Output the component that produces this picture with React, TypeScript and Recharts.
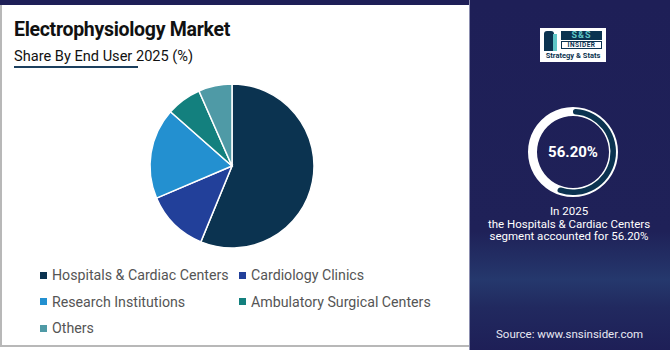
import { PieChart, Pie, Cell } from 'recharts'

const segments = ['Hospitals & Cardiac Centers', 'Cardiology Clinics', 'Research Institutions', 'Ambulatory Surgical Centers', 'Others']
const shares = [56.2, 12.4, 17.9, 6.9, 6.6]
const colors = ['#0b3350', '#22409a', '#2390d0', '#13807e', '#4f9aa6']

const highlightValue = 56.2
const highlightLabel = '56.20%'

const pieData = segments.map((name, i) => ({ name, value: shares[i] }))
const ringTrack = [{ name: 'track', value: 100 }]
const ringData = [
  { name: 'share', value: highlightValue },
  { name: 'rest', value: 100 - highlightValue },
]

const font = 'Roboto, "Noto Sans", Arial, sans-serif'

function Logo() {
  return (
    <div
      style={{
        position: 'absolute', left: 540, top: 28, width: 66, height: 34,
        background: '#fff', fontFamily: font, color: '#0b3350',
      }}
    >
      <div style={{ position: 'absolute', left: 4, top: 3, width: 10, height: 20, background: '#0b3350', borderRadius: '3px 3px 0 0' }} />
      <div style={{ position: 'absolute', left: 13, top: 6, width: 4, height: 17, background: '#5fc6c6' }} />
      <div style={{ position: 'absolute', left: 21, top: 3, width: 41, height: 9, background: '#0b3350', color: '#5fc6c6', fontSize: 9, fontWeight: 700, lineHeight: '9px', textAlign: 'center', letterSpacing: 1 }}>S&amp;S</div>
      <div style={{ position: 'absolute', left: 21, top: 13, width: 41, height: 8, border: '1px solid #0b3350', boxSizing: 'border-box', fontSize: 6.5, fontWeight: 700, lineHeight: '7px', textAlign: 'center', letterSpacing: 0.5 }}>INSIDER</div>
      <div style={{ position: 'absolute', left: 0, top: 23, width: 66, fontSize: 7.5, fontWeight: 700, lineHeight: '9px', textAlign: 'center' }}>Strategy &amp; Stats</div>
    </div>
  )
}

export default function App() {
  return (
    <div style={{ position: 'absolute', left: 0, top: 0, width: 670, height: 350, overflow: 'hidden', background: '#fff', fontFamily: font }}>
      {/* left card */}
      <div style={{ position: 'absolute', left: 0, top: 0, width: 670, height: 5, background: '#1e1f57' }} />
      <div style={{ position: 'absolute', left: 0, top: 5, width: 469, height: 342, borderLeft: '2px solid #b8b8b8', borderBottom: '2px solid #b8b8b8', boxSizing: 'border-box' }} />

      <div style={{ position: 'absolute', left: 14, top: 18, fontSize: 19.5, fontWeight: 700, color: '#111', letterSpacing: -0.3 }}>
        Electrophysiology Market
      </div>
      <div style={{ position: 'absolute', left: 14, top: 47, fontSize: 14.6, color: '#111' }}>
        Share By End User 2025 (%)
      </div>
      <div style={{ position: 'absolute', left: 14, top: 66, width: 124, height: 2, background: '#1c3f5e' }} />

      <div style={{ position: 'absolute', left: 0, top: 0 }}>
        <PieChart width={469} height={260}>
          <Pie
            data={pieData}
            dataKey="value"
            cx={227}
            cy={161}
            outerRadius={82}
            startAngle={90}
            endAngle={-270}
            stroke="#fff"
            strokeWidth={1.5}
            isAnimationActive={false}
          >
            {pieData.map((d, i) => (
              <Cell key={d.name} fill={colors[i]} />
            ))}
          </Pie>
        </PieChart>
      </div>

      {/* legend */}
      {segments.map((name, i) => (
        <div
          key={name}
          style={{
            position: 'absolute',
            left: i % 2 === 0 ? 40 : 239,
            top: 267 + Math.floor(i / 2) * 26.5,
            display: 'flex', alignItems: 'center', gap: 5,
            fontSize: 14.2, color: '#555', whiteSpace: 'nowrap',
          }}
        >
          <div style={{ width: 7, height: 7, background: colors[i] }} />
          {name}
        </div>
      ))}

      {/* right panel */}
      <div
        style={{
          position: 'absolute', left: 469, top: 0, width: 201, height: 350,
          background: 'linear-gradient(180deg, #1e1f57 0%, #1f2158 66%, #25386d 80%, #21295f 88%, #1e1f57 100%)',
          borderLeft: '1px solid #8c8fb0', boxSizing: 'border-box',
        }}
      />
      <Logo />

      <div style={{ position: 'absolute', left: 469, top: 0 }}>
        <PieChart width={201} height={230}>
          <Pie
            data={ringTrack}
            dataKey="value"
            cx={99}
            cy={147}
            innerRadius={36}
            outerRadius={45}
            stroke="none"
            fill="#ffffff"
            isAnimationActive={false}
          />
          <Pie
            data={ringData}
            dataKey="value"
            cx={99}
            cy={147}
            innerRadius={37.5}
            outerRadius={43}
            startAngle={90}
            endAngle={-270}
            cornerRadius={3}
            stroke="none"
            isAnimationActive={false}
          >
            <Cell fill="#0b3350" />
            <Cell fill="rgba(0,0,0,0)" />
          </Pie>
        </PieChart>
      </div>
      <div style={{ position: 'absolute', left: 523, top: 143, width: 100, textAlign: 'center', color: '#fff', fontSize: 15, fontWeight: 700 }}>
        {highlightLabel}
      </div>

      <div style={{ position: 'absolute', left: 479, top: 205, width: 180, textAlign: 'center', color: '#fff', fontSize: 11.5, lineHeight: '12.5px' }}>
        In 2025
        <br />
        the Hospitals &amp; Cardiac Centers
        <br />
        segment accounted for {highlightLabel}
      </div>

      <div style={{ position: 'absolute', left: 496, top: 327, color: '#e8e8f2', fontSize: 11.5 }}>
        Source: www.snsinsider.com
      </div>
    </div>
  )
}
